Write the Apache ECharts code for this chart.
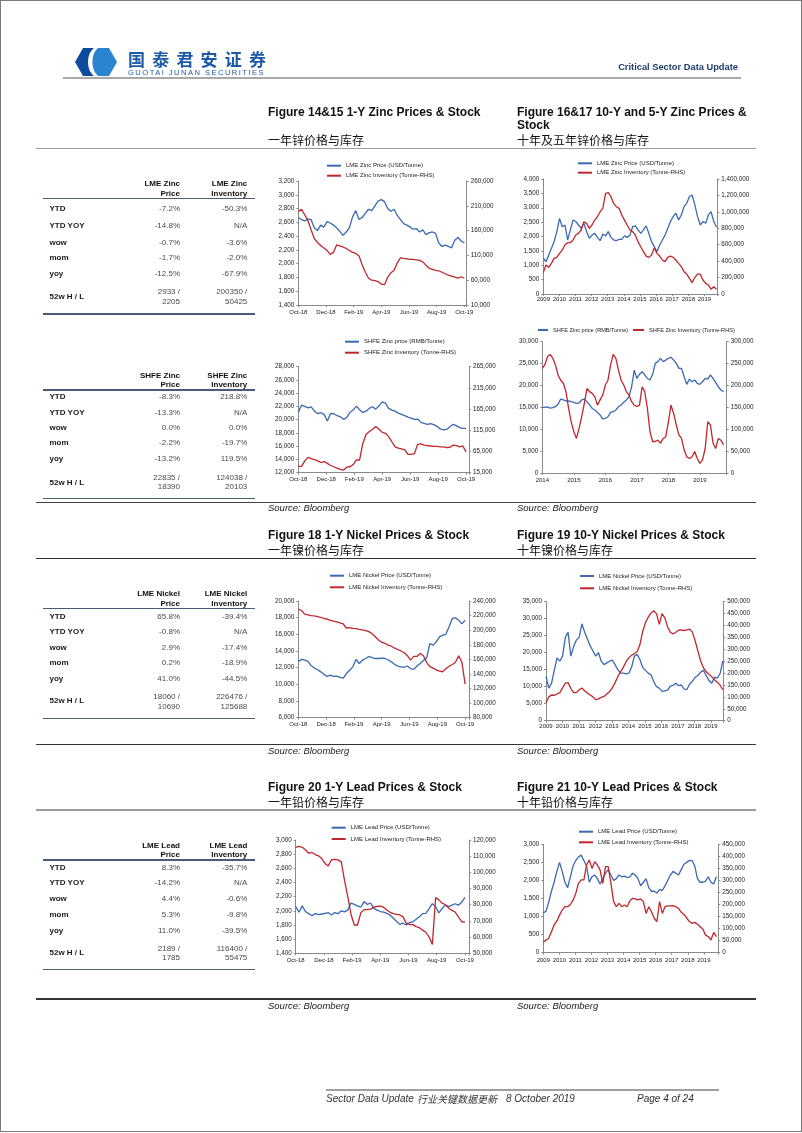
<!DOCTYPE html>
<html>
<head>
<meta charset="utf-8">
<script src="https://cdn.jsdelivr.net/npm/echarts@6/dist/echarts.min.js"></script>
<style>
html,body{margin:0;padding:0;background:#fff;}
#page{position:relative;width:802px;height:1133px;overflow:hidden;font-family:'Liberation Sans',Arial,Helvetica,sans-serif;background:#fff;}
#chart{position:absolute;left:0;top:0;width:802px;height:1133px;}
.t{position:absolute;white-space:nowrap;z-index:3;}
.ln{position:absolute;z-index:3;}
#frame{position:absolute;left:0;top:0;width:800px;height:1130px;border:1px solid #7a7a7a;z-index:4;pointer-events:none;}
</style>
</head>
<body>
<div id="page">
  <div id="chart"></div>
  <div id="frame"></div>
  <svg style="position:absolute;left:75px;top:48px;z-index:3" width="42" height="28" viewBox="0 0 42 28">
    <path d="M19,0 H8 L0,14 L8,28 H19 C11,22 11,6 19,0 Z" fill="#0d4c9c"/>
    <path d="M23,0 H34 L42,14 L34,28 H23 C15.5,22 15.5,6 23,0 Z" fill="#2b84d0"/>
  </svg>
</div>
<script>
// ---------------- tick labels ----------------
const monthTicks1Y = ['Oct-18','Dec-18','Feb-19','Apr-19','Jun-19','Aug-19','Oct-19'];
const yearTicks10Y = ['2009','2010','2011','2012','2013','2014','2015','2016','2017','2018','2019'];
const yearTicks5Y  = ['2014','2015','2016','2017','2018','2019'];
const lmeZinc1YRightTicks  = [10000,60000,110000,160000,210000,260000];
const shfeZinc1YRightTicks = [15000,65000,115000,165000,215000,265000];

// ---------------- series names ----------------
const nLmeZincPrice = 'LME Zinc Price (USD/Tonne)';
const nLmeZincStock = 'LME Zinc Inventory (Tonne-RHS)';
const nShfeZincPrice = 'SHFE Zinc price (RMB/Tonne)';
const nShfeZincStock = 'SHFE Zinc Inventory (Tonne-RHS)';
const nLmeNickelPrice = 'LME Nickel Price (USD/Tonne)';
const nLmeNickelStock = 'LME Nickel Inventory (Tonne-RHS)';
const nLmeLeadPrice = 'LME Lead Price (USD/Tonne)';
const nLmeLeadStock = 'LME Lead Inventory (Tonne-RHS)';

// ---------------- 1-year weekly series (Oct-18 .. Oct-19) ----------------
const lmeZincPrice1Y = [2670,2640,2620,2650,2640,2520,2480,2560,2530,2610,2590,2560,2520,2470,2410,2460,2520,2680,2770,2640,2670,2730,2790,2770,2840,2910,2930,2900,2800,2760,2790,2700,2640,2580,2560,2530,2500,2510,2460,2490,2420,2450,2460,2440,2300,2250,2270,2250,2230,2340,2380,2330,2300];
const lmeZincStock1Y = [198000,203000,192000,180000,162000,144000,136000,130000,125000,120000,112000,116000,131000,129000,127000,124000,120000,116000,114000,109000,91000,76000,64000,60000,59000,57000,52000,51000,66000,75000,80000,95000,105000,104000,103000,102000,102000,101000,100000,97000,90000,84000,82000,80000,79000,76000,73000,70000,68000,66000,64000,67000,64000];
const shfeZincPrice1Y = [21100,22200,22000,21800,21950,21300,20900,21050,20800,19800,20950,20900,20600,20450,20050,20300,21100,21450,22050,21500,21100,21300,21700,21950,21600,22100,22700,22500,21700,21450,21300,21000,20800,20600,20400,20250,20050,20100,19600,19450,19300,19400,19250,19000,18600,18450,18550,18950,19300,19100,18800,18700,18700];
const shfeZincStock1Y = [30000,30000,43000,51000,48000,46000,43000,39000,41000,37000,32000,29000,26000,23000,21000,28000,29000,34000,45000,45000,84000,105000,112000,117000,124000,118000,110000,108000,100000,88000,76000,73000,71000,69000,58000,58000,60000,82000,83000,80000,79000,78000,77000,77000,76000,76000,74000,75000,80000,79000,76000,78000,64000];
const lmeNickelPrice1Y = [12700,13000,12900,12750,12250,11950,11750,11500,11200,10950,11100,10950,11000,10850,10750,11300,11700,12100,13000,12500,12900,13100,13350,13200,13100,13100,13150,13100,12950,12700,12400,12200,12100,12050,12200,11900,11800,12200,12500,12850,13150,14900,14700,15100,15700,15900,16000,16900,17900,18000,17700,17250,17700];
const lmeNickelStock1Y = [229000,227000,222000,221000,220000,219500,218500,217500,216000,215000,213500,212500,211500,210000,208500,203000,203500,202500,202000,201000,200500,199500,198000,195000,191000,186500,183500,182000,179500,178000,175500,173500,171500,169000,165000,159000,164000,164000,168000,165000,156000,150000,148000,145500,144000,143000,147000,150500,153000,156000,165000,156000,126000];
const lmeLeadPrice1Y = [2060,1980,2070,1990,1960,1930,1960,1945,1955,1965,1975,1940,1975,1960,2000,1985,2010,2110,2090,2070,2050,2130,2090,2110,2035,2010,1990,1980,1965,1940,1895,1850,1810,1825,1800,1835,1845,1880,1915,1960,1965,2030,2100,2060,1970,2035,2080,2060,2080,2100,2080,2120,2190];
const lmeLeadStock1Y = [115500,116000,115500,114000,111800,112300,111000,110200,108500,105500,104000,107800,108000,107700,106500,95000,85000,74000,67500,67500,75000,77000,77000,77300,78500,79000,79200,78500,76800,75300,74500,74000,73700,72500,68500,67800,67700,66500,65800,64300,63000,60000,55500,84500,83000,81000,80000,78000,76500,75500,72500,69500,69200];

// ---------------- 10-year bi-monthly series (2009 .. Oct-2019) ----------------
const lmeZincPrice10Y = [1250,1125,1360,1590,1820,2170,2630,2340,2400,1880,2230,2575,2520,2400,2285,2460,2170,1940,2050,2110,1970,1856,2090,2020,2170,1970,1880,1856,1900,1900,2020,1970,2040,2340,2370,2230,2110,2230,2370,2110,1820,1650,1470,1705,1880,2050,2285,2520,2690,2810,2575,2750,3040,3155,3390,3445,3100,2690,2400,2520,2460,2750,2865,2520,2320];
const lmeZincStock10Y = [260000,353000,325000,373000,434000,446000,495000,535000,596000,625000,625000,657000,718000,738000,779000,880000,860000,799000,840000,900000,941000,1002000,1043000,1225000,1233000,1185000,1103000,1063000,1043000,961000,900000,840000,779000,759000,718000,637000,576000,515000,462000,446000,475000,560000,495000,462000,414000,394000,446000,462000,446000,414000,373000,333000,272000,243000,191000,138000,203000,243000,243000,170000,130000,110000,57000,89000,57000];
const lmeNickelPrice10Y = [13000,9600,11000,14900,18500,17500,19000,24500,26000,19000,21800,23700,24500,28500,26000,24000,22000,20500,19000,20000,17500,16500,17000,17500,17800,16500,15000,14000,14000,13800,14000,15800,19000,19500,18000,15700,14800,14000,13500,11500,10000,9600,8600,8800,9000,10200,10400,11000,10300,10500,9300,9200,10800,11600,12800,13300,14300,14800,13300,11800,11000,12800,12500,13800,17600];
const lmeNickelStock10Y = [75000,100000,108000,107000,112000,118000,138000,158000,160000,135000,118000,118000,130000,137000,126000,116000,108000,100000,88000,92000,98000,102000,112000,122000,138000,160000,185000,205000,225000,248000,265000,275000,282000,290000,320000,375000,412000,435000,452000,462000,450000,405000,450000,432000,395000,372000,364000,372000,380000,382000,378000,382000,385000,372000,335000,292000,250000,222000,206000,195000,185000,172000,162000,150000,130000];
const lmeLeadPrice10Y = [1100,1150,1400,1700,1950,2250,2500,2250,1950,1800,2100,2400,2550,2650,2700,2550,2400,1950,2100,2150,2050,1900,2050,2200,2300,2150,2000,2050,2150,2100,2120,2080,2100,2200,2150,2050,1850,1950,2050,1800,1700,1700,1650,1750,1720,1850,2000,2150,2250,2200,2150,2300,2450,2500,2550,2550,2400,2050,1950,1950,1980,2100,1950,1900,2100];
const lmeLeadStock10Y = [45000,52000,60000,87000,115000,131000,156000,177000,191000,191000,200000,218000,246000,288000,302000,302000,364000,385000,350000,378000,364000,343000,288000,357000,357000,288000,212000,191000,205000,191000,198000,191000,215000,226000,223000,219000,223000,212000,163000,191000,170000,143000,129000,212000,163000,191000,194000,194000,195000,191000,184000,168000,159000,145000,129000,122000,126000,118000,108000,98000,73000,67000,53000,84000,67000];

// ---------------- 5-year monthly SHFE series (2014 .. Oct-2019) ----------------
const shfeZincPrice5Y = [15000,15000,15100,14800,14950,15150,15700,16900,16700,16450,16450,16300,16150,15900,16000,16700,16900,16300,15550,14750,14400,13850,13250,12350,12500,12850,13850,14000,14400,15150,15550,16150,16700,17450,19700,23500,21600,22550,23150,22400,21600,21250,22550,25050,25450,26200,25450,25800,26200,26450,25800,25050,23900,23900,22000,20250,21450,20850,21250,20500,20250,20850,21600,21450,22400,21600,20700,19700,18950,18600];
const shfeZincStock5Y = [239000,248000,266000,271000,262000,247000,224000,212000,205000,186000,148000,117000,94000,79000,102000,129000,159000,193000,186000,182000,174000,155000,167000,178000,201000,212000,247000,271000,262000,235000,212000,201000,186000,178000,163000,155000,152000,155000,197000,186000,148000,94000,72000,72000,75000,68000,79000,83000,117000,155000,136000,110000,87000,79000,53000,37000,33000,37000,49000,33000,22000,30000,56000,117000,110000,68000,56000,79000,75000,64000];

// ---------------- tables ----------------
const tblZincLmeHead = ['LME Zinc','Price','LME Zinc','Inventory'];
const tblZincLmeRows = [['YTD','-7.2%','-50.3%'],['YTD YOY','-14.8%','N/A'],['wow','-0.7%','-3.6%'],['mom','-1.7%','-2.0%'],['yoy','-12.5%','-67.9%']];
const tblZincLmeHL = ['52w H / L','2933 /','2205','200350 /','50425'];
const tblZincShfeHead = ['SHFE Zinc','Price','SHFE Zinc','Inventory'];
const tblZincShfeRows = [['YTD','-8.3%','218.8%'],['YTD YOY','-13.3%','N/A'],['wow','0.0%','0.0%'],['mom','-2.2%','-19.7%'],['yoy','-13.2%','119.5%']];
const tblZincShfeHL = ['52w H / L','22835 /','18390','124038 /','20103'];
const tblNickelHead = ['LME Nickel','Price','LME Nickel','Inventory'];
const tblNickelRows = [['YTD','65.8%','-39.4%'],['YTD YOY','-0.8%','N/A'],['wow','2.9%','-17.4%'],['mom','0.2%','-18.9%'],['yoy','41.0%','-44.5%']];
const tblNickelHL = ['52w H / L','18060 /','10690','226476 /','125688'];
const tblLeadHead = ['LME Lead','Price','LME Lead','Inventory'];
const tblLeadRows = [['YTD','8.3%','-35.7%'],['YTD YOY','-14.2%','N/A'],['wow','4.4%','-0.6%'],['mom','5.3%','-9.8%'],['yoy','11.0%','-39.5%']];
const tblLeadHL = ['52w H / L','2189 /','1785','116400 /','55475'];

// =====================================================================
const FONT = "'Liberation Sans', Arial, Helvetica, sans-serif";
const CN = "'Noto Sans CJK SC', sans-serif";
const BLUE = '#3a69b2', RED = '#c0272d', AX = '#8a8a8a', LBL = '#222';
const page = document.getElementById('page');

function txt(s, x, cy, o) {
  o = o || {};
  const d = document.createElement('div');
  d.className = 't';
  d.textContent = s;
  const fs = o.fs || 8, lh = o.lh || Math.round(fs * 1.3);
  d.style.fontSize = fs + 'px';
  d.style.lineHeight = lh + 'px';
  d.style.top = (cy - lh / 2) + 'px';
  if (o.align === 'right') { d.style.left = (x - 400) + 'px'; d.style.width = '400px'; d.style.textAlign = 'right'; }
  else d.style.left = x + 'px';
  d.style.fontWeight = o.bold ? 'bold' : 'normal';
  d.style.fontStyle = o.italic ? 'italic' : 'normal';
  d.style.color = o.color || '#111';
  d.style.fontFamily = o.cn ? CN : FONT;
  if (o.ls) d.style.letterSpacing = o.ls + 'px';
  page.appendChild(d);
}
function hline(x1, x2, y, h, color) {
  const d = document.createElement('div');
  d.className = 'ln';
  d.style.left = x1 + 'px'; d.style.width = (x2 - x1) + 'px';
  d.style.top = (y - h / 2) + 'px'; d.style.height = h + 'px';
  d.style.background = color;
  page.appendChild(d);
}

// header
txt('国泰君安证券', 128, 59, {fs:17, bold:true, cn:true, color:'#1c5aa6', ls:7.2, lh:20});
txt('GUOTAI JUNAN SECURITIES', 128, 72.5, {fs:7.6, color:'#1c5aa6', ls:1.45, lh:9});
txt('Critical Sector Data Update', 738, 66.7, {fs:9.3, bold:true, color:'#1f3b70', align:'right'});
hline(63, 741, 78.3, 2, '#a8a8a8');

// figure titles
const TT = {fs:12, bold:true, lh:14, color:'#111'};
const TC = {fs:12, cn:true, lh:14, color:'#111'};
txt('Figure 14&15 1-Y Zinc Prices & Stock', 268, 111.7, TT);
txt('一年锌价格与库存', 268, 140, TC);
txt('Figure 16&17 10-Y and 5-Y Zinc Prices &', 517, 111.7, TT);
txt('Stock', 517, 125.3, TT);
txt('十年及五年锌价格与库存', 517, 140, TC);
hline(36, 756, 148.3, 1.5, '#9c9c9c');

txt('Figure 18 1-Y Nickel Prices & Stock', 268, 535, TT);
txt('一年镍价格与库存', 268, 550, TC);
txt('Figure 19 10-Y Nickel Prices & Stock', 517, 535, TT);
txt('十年镍价格与库存', 517, 550, TC);
hline(36, 756, 558.3, 1.5, '#333');

txt('Figure 20 1-Y Lead Prices & Stock', 268, 786.7, TT);
txt('一年铅价格与库存', 268, 801.7, TC);
txt('Figure 21 10-Y Lead Prices & Stock', 517, 786.7, TT);
txt('十年铅价格与库存', 517, 801.7, TC);
hline(36, 756, 810, 1.5, '#9c9c9c');

// section bottoms and sources
const SRC = {fs:9.5, italic:true, color:'#222', lh:12};
hline(36, 756, 502.5, 1.2, '#444');
txt('Source: Bloomberg', 268, 508, SRC); txt('Source: Bloomberg', 517, 508, SRC);
hline(36, 756, 744.3, 1.5, '#333');
txt('Source: Bloomberg', 268, 750.5, SRC); txt('Source: Bloomberg', 517, 750.5, SRC);
hline(36, 756, 999, 1.5, '#333');
txt('Source: Bloomberg', 268, 1005.7, SRC); txt('Source: Bloomberg', 517, 1005.7, SRC);

// footer
hline(326, 719, 1090, 2, '#a0a0a0');
const FT = {fs:10, italic:true, color:'#333', lh:12};
txt('Sector Data Update', 326, 1098.7, FT);
txt('行业关键数据更新', 417, 1098.7, Object.assign({}, FT, {cn:true}));
txt('8 October 2019', 506, 1098.7, FT);
txt('Page 4 of 24', 637, 1098.7, FT);

// tables
function table(head, rows, hl, g) {
  const HS = {fs:8, bold:true, align:'right', lh:10};
  txt(head[0], 180, g.h[0], HS); txt(head[1], 180, g.h[1], HS);
  txt(head[2], 247.3, g.h[0], HS); txt(head[3], 247.3, g.h[1], HS);
  hline(42.7, 255, g.ul, 1.5, '#4b5d76');
  rows.forEach((r, i) => {
    txt(r[0], 49.5, g.rows[i], {fs:8, bold:true, lh:10, color:'#1a1a1a'});
    txt(r[1], 180, g.rows[i], {fs:8, align:'right', lh:10, color:'#4a4a4a'});
    txt(r[2], 247.3, g.rows[i], {fs:8, align:'right', lh:10, color:'#4a4a4a'});
  });
  txt(hl[0], 49.5, g.hl[0], {fs:8, bold:true, lh:10, color:'#1a1a1a'});
  txt(hl[1], 180, g.hl[1], {fs:8, align:'right', lh:10, color:'#4a4a4a'});
  txt(hl[2], 180, g.hl[2], {fs:8, align:'right', lh:10, color:'#4a4a4a'});
  txt(hl[3], 247.3, g.hl[1], {fs:8, align:'right', lh:10, color:'#4a4a4a'});
  txt(hl[4], 247.3, g.hl[2], {fs:8, align:'right', lh:10, color:'#4a4a4a'});
  hline(42.7, 255, g.bottom, 1.5, '#4b5d76');
}
table(tblZincLmeHead, tblZincLmeRows, tblZincLmeHL, {h:[184.3,193.7], ul:198.3, rows:[209,226,242.7,258.3,274.3], hl:[296.7,291.7,301.7], bottom:314});
table(tblZincShfeHead, tblZincShfeRows, tblZincShfeHL, {h:[375.7,385], ul:390, rows:[397.3,412.7,428.3,443.3,459], hl:[482.5,478.3,486.7], bottom:498.3});
table(tblNickelHead, tblNickelRows, tblNickelHL, {h:[594,603.7], ul:608.7, rows:[616.7,631.7,647.7,663.3,679.3], hl:[700.7,697.3,706.7], bottom:718.3});
table(tblLeadHead, tblLeadRows, tblLeadHL, {h:[846,855], ul:860, rows:[868,883.3,899.3,915,930.7], hl:[953.3,949,958], bottom:969.3});

// ---------------- charts ----------------
function pts(values, start, end) {
  const n = values.length;
  return values.map((v, i) => [start + (end - start) * i / (n - 1), v]);
}
const charts = [
  {grid:[298.3,181,168.4,124], x:{min:0,max:12.17,interval:2,ticks:monthTicks1Y,margin:4},
   yl:{min:1400,max:3200,interval:200}, yr:{min:10000,max:260000,custom:lmeZinc1YRightTicks},
   s:[[nLmeZincPrice,lmeZincPrice1Y,BLUE,0,12],[nLmeZincStock,lmeZincStock1Y,RED,0,12]],
   leg:[[327,165.7,14,6],[327,175.7,14,6]]},
  {grid:[543.3,179,174,115], x:{min:2009,max:2019.8,interval:1,ticks:yearTicks10Y,margin:2.5},
   yl:{min:0,max:4000,interval:500}, yr:{min:0,max:1400000,interval:200000},
   s:[[nLmeZincPrice,lmeZincPrice10Y,BLUE,2009,2019.75],[nLmeZincStock,lmeZincStock10Y,RED,2009,2019.75]],
   leg:[[578,163.3,14,6],[578,172.7,14,6]]},
  {grid:[298.3,366.7,170.7,106], x:{min:0,max:12.21,interval:2,ticks:monthTicks1Y,margin:3.5},
   yl:{min:12000,max:28000,interval:2000}, yr:{min:15000,max:265000,custom:shfeZinc1YRightTicks},
   s:[[nShfeZincPrice,shfeZincPrice1Y,BLUE,0,12],[nShfeZincStock,shfeZincStock1Y,RED,0,12]],
   leg:[[345,341.7,14,6],[345,352.7,14,6]]},
  {grid:[542.3,341.7,184.4,131.3], x:{min:2014,max:2019.85,interval:1,ticks:yearTicks5Y,margin:4},
   yl:{min:0,max:30000,interval:5000}, yr:{min:0,max:300000,interval:50000},
   s:[[nShfeZincPrice,shfeZincPrice5Y,BLUE,2014,2019.75],[nShfeZincStock,shfeZincStock5Y,RED,2014,2019.75]],
   leg:[[538,330,10,5.6],[633,330,11,5.6]]},
  {grid:[298.3,601,170.7,116.7], x:{min:0,max:12.28,interval:2,ticks:monthTicks1Y,margin:4},
   yl:{min:6000,max:20000,interval:2000}, yr:{min:80000,max:240000,interval:20000},
   s:[[nLmeNickelPrice,lmeNickelPrice1Y,BLUE,0,12],[nLmeNickelStock,lmeNickelStock1Y,RED,0,12]],
   leg:[[330,575.7,14,6],[330,587.3,14,6]]},
  {grid:[546,601.7,177.3,119], x:{min:2009,max:2019.75,interval:1,ticks:yearTicks10Y,margin:3},
   yl:{min:0,max:35000,interval:5000}, yr:{min:0,max:500000,interval:50000},
   s:[[nLmeNickelPrice,lmeNickelPrice10Y,BLUE,2009,2019.72],[nLmeNickelStock,lmeNickelStock10Y,RED,2009,2019.72]],
   leg:[[580,576,14,6],[580,588.3,14,6]]},
  {grid:[295.7,840,173.3,113.3], x:{min:0,max:12.29,interval:2,ticks:monthTicks1Y,margin:4.5},
   yl:{min:1400,max:3000,interval:200}, yr:{min:50000,max:120000,interval:10000},
   s:[[nLmeLeadPrice,lmeLeadPrice1Y,BLUE,0,12],[nLmeLeadStock,lmeLeadStock1Y,RED,0,12]],
   leg:[[331.7,827.7,14,6],[331.7,839,14,6]]},
  {grid:[543.3,844.3,175,108.4], x:{min:2009,max:2019.9,interval:1,ticks:yearTicks10Y,margin:5},
   yl:{min:0,max:3000,interval:500}, yr:{min:0,max:450000,interval:50000},
   s:[[nLmeLeadPrice,lmeLeadPrice10Y,BLUE,2009,2019.78],[nLmeLeadStock,lmeLeadStock10Y,RED,2009,2019.78]],
   leg:[[579,831.7,14,6],[579,842.3,14,6]]}
];

const fmt = v => Math.round(v).toLocaleString('en-US');
const option = {animation:false, textStyle:{fontFamily:FONT}, grid:[], xAxis:[], yAxis:[], series:[], legend:[]};
charts.forEach((c, g) => {
  option.grid.push({left:c.grid[0], top:c.grid[1], width:c.grid[2], height:c.grid[3], containLabel:false, outerBoundsMode:'none', show:false});
  option.xAxis.push({type:'value', gridIndex:g, min:c.x.min, max:c.x.max, interval:c.x.interval,
    axisLine:{show:true, onZero:false, lineStyle:{color:AX, width:1}},
    axisTick:{show:true, length:2, lineStyle:{color:AX}}, splitLine:{show:false},
    axisLabel:{fontSize:6, color:LBL, margin:c.x.margin, showMaxLabel:true, showMinLabel:true,
      formatter: v => { const k = (v - c.x.min) / c.x.interval; const r = Math.round(k);
        return (Math.abs(k - r) < 1e-6 && r >= 0 && r < c.x.ticks.length) ? c.x.ticks[r] : ''; }}});
  option.yAxis.push({type:'value', gridIndex:g, position:'left', min:c.yl.min, max:c.yl.max, interval:c.yl.interval,
    axisLine:{show:true, onZero:false, lineStyle:{color:AX, width:1}},
    axisTick:{show:true, length:2, lineStyle:{color:AX}}, splitLine:{show:false},
    axisLabel:{fontSize:6.3, color:LBL, margin:4, formatter:fmt}});
  const yr = {type:'value', gridIndex:g, position:'right', min:c.yr.min, max:c.yr.max,
    axisLine:{show:true, onZero:false, lineStyle:{color:AX, width:1}},
    axisTick:{show:true, length:2, lineStyle:{color:AX}}, splitLine:{show:false},
    axisLabel:{fontSize:6.3, color:LBL, margin:4, formatter:fmt}};
  if (c.yr.custom) { yr.axisLabel.customValues = c.yr.custom; yr.axisTick.customValues = c.yr.custom; yr.interval = 50000; }
  else yr.interval = c.yr.interval;
  option.yAxis.push(yr);
  c.s.forEach((s, k) => {
    option.series.push({type:'line', name:s[0], xAxisIndex:g, yAxisIndex:2*g+k, data:pts(s[1], s[3], s[4]),
      symbol:'none', showSymbol:false, lineStyle:{width:1.3, color:s[2]}, itemStyle:{color:s[2]},
      emphasis:{disabled:true}, silent:true, z:2+k});
    const L = c.leg[k];
    option.legend.push({data:[s[0]], left:L[0], top:L[1] - 4, orient:'horizontal',
      icon:'rect', itemWidth:L[2], itemHeight:2, itemGap:0, padding:0, selectedMode:false,
      textStyle:{fontSize:L[3], color:LBL, lineHeight:8, fontFamily:FONT}});
  });
});
const chart = echarts.init(document.getElementById('chart'), null, {renderer:'canvas', width:802, height:1133});
chart.setOption(option);
</script>
</body>
</html>
